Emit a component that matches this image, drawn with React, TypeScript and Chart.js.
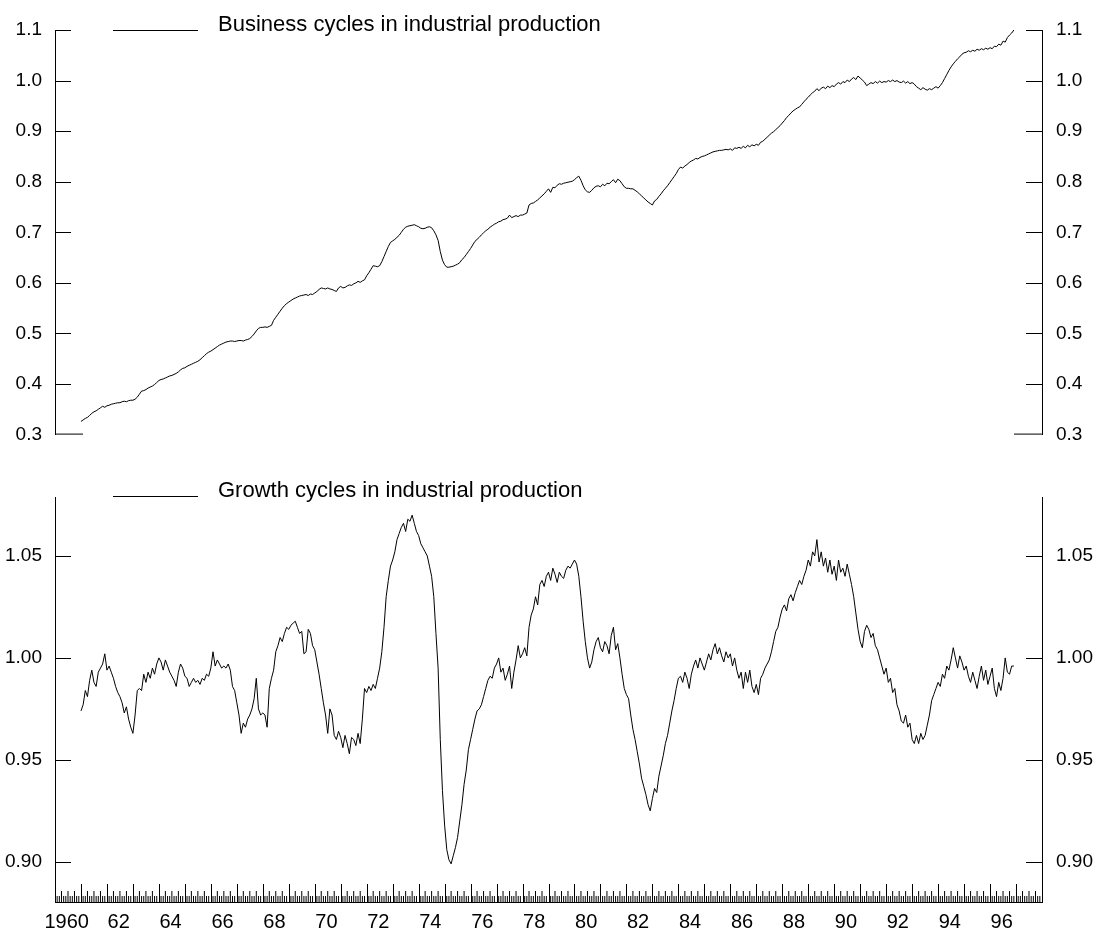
import React, { useEffect, useRef } from "react";
import { Chart, registerables } from "chart.js";

Chart.register(...registerables);

const FONT = '"Liberation Sans", Arial, Helvetica, sans-serif';

// Monthly data, January 1961 .. December 1996
const FIRST_YEAR = 1961;
const X_MIN = 1960;
const X_MAX = 1998;

const BUSINESS_LABEL = "Business cycles in industrial production";
const GROWTH_LABEL = "Growth cycles in industrial production";

const businessCycles: number[] = [
  0.326, 0.329, 0.332, 0.334, 0.338, 0.342, 0.345, 0.347, 0.350, 0.353, 0.356, 0.354, // 1961
  0.357, 0.358, 0.360, 0.361, 0.362, 0.363, 0.363, 0.365, 0.366, 0.365, 0.367, 0.368, // 1962
  0.368, 0.370, 0.374, 0.380, 0.386, 0.387, 0.389, 0.392, 0.394, 0.396, 0.399, 0.403, // 1963
  0.407, 0.409, 0.410, 0.412, 0.414, 0.416, 0.417, 0.419, 0.421, 0.424, 0.428, 0.431, // 1964
  0.432, 0.435, 0.437, 0.439, 0.441, 0.443, 0.445, 0.448, 0.452, 0.456, 0.460, 0.463, // 1965
  0.465, 0.468, 0.471, 0.474, 0.477, 0.479, 0.481, 0.483, 0.484, 0.485, 0.485, 0.484, // 1966
  0.485, 0.486, 0.486, 0.485, 0.487, 0.488, 0.490, 0.494, 0.499, 0.505, 0.510, 0.512, // 1967
  0.512, 0.513, 0.512, 0.514, 0.516, 0.526, 0.532, 0.538, 0.544, 0.550, 0.555, 0.559, // 1968
  0.562, 0.565, 0.568, 0.570, 0.572, 0.574, 0.575, 0.576, 0.577, 0.575, 0.578, 0.577, // 1969
  0.580, 0.583, 0.587, 0.590, 0.589, 0.588, 0.590, 0.588, 0.587, 0.585, 0.583, 0.590, // 1970
  0.593, 0.590, 0.591, 0.594, 0.596, 0.595, 0.598, 0.600, 0.603, 0.601, 0.604, 0.606, // 1971
  0.614, 0.620, 0.627, 0.634, 0.633, 0.632, 0.634, 0.642, 0.652, 0.662, 0.672, 0.680, // 1972
  0.683, 0.686, 0.690, 0.694, 0.700, 0.706, 0.710, 0.712, 0.713, 0.714, 0.715, 0.713, // 1973
  0.711, 0.708, 0.707, 0.708, 0.710, 0.711, 0.709, 0.703, 0.695, 0.684, 0.662, 0.645, // 1974
  0.636, 0.631, 0.631, 0.632, 0.633, 0.635, 0.637, 0.640, 0.646, 0.650, 0.656, 0.662, // 1975
  0.668, 0.675, 0.682, 0.686, 0.690, 0.695, 0.699, 0.703, 0.706, 0.710, 0.713, 0.716, // 1976
  0.718, 0.721, 0.722, 0.725, 0.726, 0.728, 0.734, 0.729, 0.731, 0.733, 0.731, 0.734, // 1977
  0.734, 0.736, 0.738, 0.754, 0.757, 0.758, 0.761, 0.764, 0.768, 0.772, 0.776, 0.781, // 1978
  0.786, 0.779, 0.789, 0.788, 0.793, 0.796, 0.795, 0.797, 0.798, 0.799, 0.800, 0.801, // 1979
  0.804, 0.808, 0.811, 0.803, 0.792, 0.784, 0.780, 0.779, 0.783, 0.788, 0.791, 0.792, // 1980
  0.790, 0.795, 0.792, 0.797, 0.796, 0.800, 0.804, 0.798, 0.805, 0.802, 0.796, 0.790, // 1981
  0.787, 0.787, 0.786, 0.786, 0.783, 0.780, 0.776, 0.772, 0.768, 0.764, 0.760, 0.757, // 1982
  0.754, 0.762, 0.765, 0.771, 0.776, 0.782, 0.787, 0.792, 0.798, 0.804, 0.810, 0.816, // 1983
  0.824, 0.829, 0.827, 0.831, 0.834, 0.838, 0.841, 0.843, 0.846, 0.845, 0.848, 0.850, // 1984
  0.851, 0.853, 0.855, 0.857, 0.859, 0.860, 0.861, 0.862, 0.862, 0.863, 0.864, 0.863, // 1985
  0.865, 0.862, 0.867, 0.866, 0.868, 0.866, 0.870, 0.867, 0.872, 0.869, 0.873, 0.871, // 1986
  0.874, 0.872, 0.878, 0.880, 0.884, 0.888, 0.892, 0.896, 0.899, 0.903, 0.907, 0.911, // 1987
  0.916, 0.921, 0.927, 0.931, 0.936, 0.940, 0.943, 0.946, 0.948, 0.953, 0.958, 0.963, // 1988
  0.967, 0.972, 0.976, 0.979, 0.984, 0.980, 0.985, 0.987, 0.984, 0.989, 0.986, 0.990, // 1989
  0.988, 0.993, 0.996, 0.993, 0.998, 0.996, 1.001, 0.998, 1.003, 1.006, 1.002, 1.009, // 1990
  1.005, 1.001, 0.997, 0.990, 0.993, 0.996, 0.994, 0.998, 0.995, 0.999, 0.996, 0.998, // 1991
  0.997, 1.000, 0.998, 1.001, 0.998, 1.000, 0.997, 0.996, 0.999, 0.995, 0.998, 0.994, // 1992
  0.996, 0.993, 0.988, 0.985, 0.982, 0.986, 0.983, 0.981, 0.984, 0.982, 0.985, 0.988, // 1993
  0.985, 0.990, 0.996, 1.004, 1.012, 1.020, 1.027, 1.033, 1.038, 1.043, 1.047, 1.052, // 1994
  1.055, 1.056, 1.059, 1.057, 1.060, 1.058, 1.062, 1.060, 1.063, 1.061, 1.064, 1.062, // 1995
  1.065, 1.063, 1.068, 1.067, 1.072, 1.070, 1.078, 1.076, 1.085, 1.090, 1.094, 1.100, // 1996
];

const growthCycles: number[] = [
  0.974, 0.977, 0.984, 0.981, 0.989, 0.994, 0.988, 0.986, 0.993, 0.995, 0.997, 1.002, // 1961
  0.994, 0.996, 0.993, 0.990, 0.986, 0.983, 0.981, 0.978, 0.973, 0.976, 0.970, 0.966, // 1962
  0.963, 0.972, 0.984, 0.985, 0.984, 0.992, 0.988, 0.993, 0.990, 0.995, 0.992, 0.997, // 1963
  1.000, 0.998, 0.994, 0.999, 0.996, 0.993, 0.991, 0.989, 0.986, 0.993, 0.997, 0.995, // 1964
  0.991, 0.990, 0.986, 0.988, 0.990, 0.988, 0.989, 0.987, 0.990, 0.989, 0.992, 0.991, // 1965
  0.995, 1.003, 0.996, 0.999, 0.997, 0.995, 0.996, 0.995, 0.997, 0.994, 0.986, 0.984, // 1966
  0.978, 0.972, 0.963, 0.968, 0.966, 0.970, 0.972, 0.975, 0.980, 0.990, 0.975, 0.972, // 1967
  0.973, 0.972, 0.966, 0.985, 0.990, 0.994, 1.003, 1.006, 1.010, 1.008, 1.012, 1.015, // 1968
  1.014, 1.016, 1.017, 1.018, 1.015, 1.012, 1.013, 1.002, 1.003, 1.014, 1.012, 1.006, // 1969
  1.004, 0.998, 0.992, 0.985, 0.978, 0.972, 0.963, 0.975, 0.972, 0.962, 0.960, 0.964, // 1970
  0.961, 0.956, 0.962, 0.958, 0.953, 0.961, 0.960, 0.957, 0.963, 0.958, 0.970, 0.985, // 1971
  0.983, 0.986, 0.984, 0.987, 0.985, 0.990, 0.995, 1.003, 1.015, 1.030, 1.038, 1.045, // 1972
  1.048, 1.052, 1.058, 1.061, 1.064, 1.066, 1.062, 1.068, 1.067, 1.070, 1.066, 1.062, // 1973
  1.060, 1.056, 1.054, 1.052, 1.050, 1.045, 1.040, 1.030, 1.012, 0.995, 0.960, 0.935, // 1974
  0.918, 0.906, 0.901, 0.899, 0.903, 0.907, 0.912, 0.920, 0.928, 0.938, 0.945, 0.955, // 1975
  0.960, 0.965, 0.970, 0.974, 0.975, 0.977, 0.981, 0.985, 0.989, 0.991, 0.990, 0.995, // 1976
  0.997, 1.000, 0.993, 0.995, 0.989, 0.992, 0.996, 0.985, 0.993, 0.999, 1.006, 1.000, // 1977
  1.002, 1.005, 1.001, 1.015, 1.021, 1.024, 1.030, 1.026, 1.036, 1.038, 1.035, 1.040, // 1978
  1.042, 1.038, 1.044, 1.041, 1.037, 1.042, 1.040, 1.039, 1.043, 1.045, 1.044, 1.046, // 1979
  1.048, 1.046, 1.040, 1.030, 1.018, 1.008, 1.000, 0.995, 0.998, 1.004, 1.008, 1.010, // 1980
  1.005, 1.003, 1.008, 1.006, 1.002, 1.011, 1.015, 1.004, 1.007, 1.000, 0.992, 0.985, // 1981
  0.982, 0.980, 0.972, 0.965, 0.960, 0.954, 0.948, 0.941, 0.937, 0.933, 0.928, 0.925, // 1982
  0.931, 0.936, 0.934, 0.942, 0.947, 0.952, 0.958, 0.962, 0.968, 0.974, 0.979, 0.985, // 1983
  0.990, 0.991, 0.988, 0.993, 0.990, 0.985, 0.992, 0.996, 0.999, 0.995, 1.000, 0.997, // 1984
  0.994, 0.998, 1.002, 0.999, 1.004, 1.007, 1.002, 1.005, 1.001, 0.998, 1.003, 1.000, // 1985
  1.002, 0.996, 1.000, 0.994, 0.990, 0.993, 0.985, 0.993, 0.988, 0.994, 0.986, 0.983, // 1986
  0.987, 0.982, 0.990, 0.992, 0.995, 0.997, 0.999, 1.003, 1.008, 1.013, 1.015, 1.020, // 1987
  1.024, 1.026, 1.023, 1.029, 1.031, 1.028, 1.032, 1.035, 1.038, 1.036, 1.040, 1.043, // 1988
  1.048, 1.045, 1.052, 1.050, 1.058, 1.047, 1.052, 1.045, 1.049, 1.042, 1.048, 1.041, // 1989
  1.045, 1.038, 1.048, 1.042, 1.044, 1.040, 1.046, 1.041, 1.036, 1.030, 1.022, 1.014, // 1990
  1.008, 1.005, 1.013, 1.016, 1.014, 1.010, 1.012, 1.006, 1.004, 1.000, 0.996, 0.992, // 1991
  0.995, 0.988, 0.990, 0.983, 0.985, 0.977, 0.974, 0.969, 0.968, 0.972, 0.966, 0.968, // 1992
  0.960, 0.958, 0.962, 0.958, 0.963, 0.960, 0.962, 0.967, 0.972, 0.979, 0.982, 0.985, // 1993
  0.988, 0.986, 0.992, 0.990, 0.996, 0.994, 0.999, 1.005, 1.000, 0.995, 1.001, 0.998, // 1994
  0.994, 0.996, 0.991, 0.988, 0.993, 0.989, 0.985, 0.991, 0.996, 0.989, 0.994, 0.987, // 1995
  0.991, 0.995, 0.985, 0.981, 0.988, 0.984, 0.990, 1.000, 0.993, 0.992, 0.996, 0.996, // 1996
];

const topTicks = [0.3, 0.4, 0.5, 0.6, 0.7, 0.8, 0.9, 1.0, 1.1];
const topTickLabels = ["0.3", "0.4", "0.5", "0.6", "0.7", "0.8", "0.9", "1.0", "1.1"];
const bottomTicks = [0.9, 0.95, 1.0, 1.05];
const bottomTickLabels = ["0.90", "0.95", "1.00", "1.05"];
const xLabelYears = [1960, 1962, 1964, 1966, 1968, 1970, 1972, 1974, 1976, 1978, 1980, 1982, 1984, 1986, 1988, 1990, 1992, 1994, 1996];
const xTickLabels = ["1960", "62", "64", "66", "68", "70", "72", "74", "76", "78", "80", "82", "84", "86", "88", "90", "92", "94", "96"];

const TOP_MIN = 0.3;
const TOP_MAX = 1.1;
const BOTTOM_MIN = 0.8803;
const BOTTOM_MAX = 1.0789;

function toPoints(values: number[]) {
  return values.map((v, i) => ({ x: FIRST_YEAR + i / 12, y: v }));
}

function yScale(position: string, min: number, max: number, ticks: number[], labels: string[], width: number, padding: number) {
  return {
    type: "linear",
    position,
    min,
    max,
    afterBuildTicks: (s: any) => {
      s.ticks = ticks.map((v) => ({ value: v }));
    },
    afterFit: (s: any) => {
      s.width = width;
    },
    grid: { display: false, drawTicks: false },
    border: { display: true, color: "#000", width: 1 },
    ticks: {
      color: "#000",
      font: { family: FONT, size: 19 },
      padding,
      autoSkip: false,
      callback: (_v: any, i: number) => labels[i],
    },
  };
}

function framePlugin(longFirstTick: boolean, rug: boolean, legendOffset: number) {
  return {
    id: "frame",
    afterDraw(chart: any) {
      const ctx = chart.ctx;
      const { left, right, top, bottom } = chart.chartArea;
      const ys = chart.scales.y;
      ctx.save();
      ctx.strokeStyle = "#000";
      ctx.lineWidth = 1;
      ctx.beginPath();
      ys.ticks.forEach((t: any, i: number) => {
        let py = Math.round(ys.getPixelForValue(t.value)) + 0.5;
        if (py > bottom) py = bottom - 0.5;
        const len = longFirstTick && i === 0 ? 28 : 16;
        ctx.moveTo(left, py);
        ctx.lineTo(left + len, py);
        ctx.moveTo(right - len, py);
        ctx.lineTo(right, py);
      });
      ctx.stroke();

      if (rug) {
        const xs = chart.scales.x;
        const months = (X_MAX - X_MIN) * 12;
        ctx.beginPath();
        for (let m = 1; m < months; m++) {
          if (m % 12 === 0) continue;
          const px = xs.getPixelForValue(X_MIN + m / 12);
          const len = m % 3 === 0 ? 11 : 6;
          ctx.moveTo(px, bottom);
          ctx.lineTo(px, bottom - len);
        }
        ctx.strokeStyle = "#000";
        ctx.stroke();
        ctx.beginPath();
        for (let m = 12; m < months; m += 12) {
          const px = Math.round(xs.getPixelForValue(X_MIN + m / 12)) + 0.5;
          ctx.moveTo(px, bottom);
          ctx.lineTo(px, bottom - 18);
        }
        ctx.strokeStyle = "#000";
        ctx.stroke();
      }

      // legend
      const ly = top + legendOffset;
      ctx.strokeStyle = "#000";
      ctx.beginPath();
      ctx.moveTo(left + 58, ly);
      ctx.lineTo(left + 143, ly);
      ctx.stroke();
      ctx.fillStyle = "#000";
      ctx.font = `22px ${FONT}`;
      ctx.textAlign = "left";
      ctx.textBaseline = "alphabetic";
      ctx.fillText(chart.data.datasets[0].label, left + 163, ly);
      ctx.restore();
    },
  };
}

function lineDataset(label: string, values: number[]) {
  return {
    label,
    data: toPoints(values),
    borderColor: "#000",
    borderWidth: 1,
    pointRadius: 0,
    tension: 0,
    fill: false,
  };
}

export default function App() {
  const topRef = useRef<HTMLCanvasElement>(null);
  const bottomRef = useRef<HTMLCanvasElement>(null);

  useEffect(() => {
    const top = new Chart(topRef.current as HTMLCanvasElement, {
      type: "line",
      data: { datasets: [lineDataset(BUSINESS_LABEL, businessCycles)] },
      options: {
        responsive: false,
        animation: false,
        devicePixelRatio: 1,
        events: [],
        layout: { padding: { top: 30, bottom: 25, left: 0, right: 0 } },
        plugins: { legend: { display: false }, tooltip: { enabled: false } },
        scales: {
          x: { type: "linear", min: X_MIN, max: X_MAX, display: false },
          y: yScale("left", TOP_MIN, TOP_MAX, topTicks, topTickLabels, 55, 13),
          y2: yScale("right", TOP_MIN, TOP_MAX, topTicks, topTickLabels, 57, 14),
        },
      } as any,
      plugins: [framePlugin(true, false, 0.5)],
    });

    const bottom = new Chart(bottomRef.current as HTMLCanvasElement, {
      type: "line",
      data: { datasets: [lineDataset(GROWTH_LABEL, growthCycles)] },
      options: {
        responsive: false,
        animation: false,
        devicePixelRatio: 1,
        events: [],
        layout: { padding: { top: 37, bottom: 0, left: 0, right: 0 } },
        plugins: { legend: { display: false }, tooltip: { enabled: false } },
        scales: {
          x: {
            type: "linear",
            position: "bottom",
            min: X_MIN,
            max: X_MAX,
            afterBuildTicks: (s: any) => {
              s.ticks = xLabelYears.map((y) => ({ value: y + 0.45 }));
            },
            afterFit: (s: any) => {
              s.height = 34;
            },
            grid: { display: false, drawTicks: false },
            border: { display: true, color: "#000", width: 1 },
            ticks: {
              color: "#000",
              font: { family: FONT, size: 20 },
              padding: 8,
              autoSkip: false,
              maxRotation: 0,
              minRotation: 0,
              callback: (_v: any, i: number) => xTickLabels[i],
            },
          },
          y: yScale("left", BOTTOM_MIN, BOTTOM_MAX, bottomTicks, bottomTickLabels, 55, 13),
          y2: yScale("right", BOTTOM_MIN, BOTTOM_MAX, bottomTicks, bottomTickLabels, 57, 14),
        },
      } as any,
      plugins: [framePlugin(false, true, -0.5)],
    });

    return () => {
      top.destroy();
      bottom.destroy();
    };
  }, []);

  return (
    <div style={{ position: "absolute", left: 0, top: 0, width: 1099, height: 936, background: "#fff" }}>
      <canvas
        ref={topRef}
        width={1099}
        height={460}
        style={{ position: "absolute", left: 0, top: 0, width: 1099, height: 460 }}
      />
      <canvas
        ref={bottomRef}
        width={1099}
        height={476}
        style={{ position: "absolute", left: 0, top: 460, width: 1099, height: 476 }}
      />
    </div>
  );
}
